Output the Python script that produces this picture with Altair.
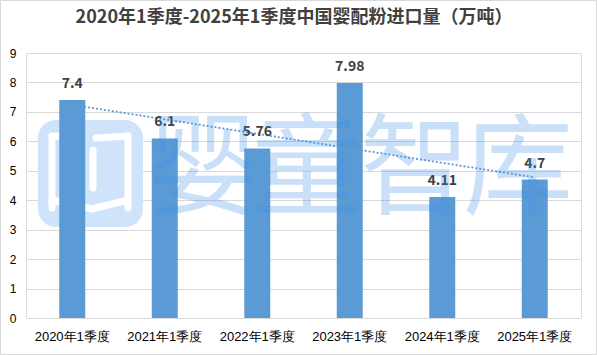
import altair as alt
import pandas as pd

# ---- data ----
categories = ["2020年1季度", "2021年1季度", "2022年1季度", "2023年1季度", "2024年1季度", "2025年1季度"]
values = [7.4, 6.1, 5.76, 7.98, 4.11, 4.7]
value_labels = ["7.4", "6.1", "5.76", "7.98", "4.11", "4.7"]
y_ticks = [0, 1, 2, 3, 4, 5, 6, 7, 8, 9]
title_text = "2020年1季度-2025年1季度中国婴配粉进口量（万吨）"
watermark_chars = ["婴", "童", "智", "库"]

df = pd.DataFrame({
    "cat": categories,
    "val": values,
    "label": value_labels,
    "idx": list(range(1, len(categories) + 1)),
})

FONT = "Noto Sans CJK SC"
W, H = 555, 265
BAR = "#5B9BD5"
TXT = "#404040"
WM = "#CFE4FA"

one = alt.Data(values=[{}])

x_band = alt.X("cat:N", sort=categories,
               scale=alt.Scale(paddingInner=0, paddingOuter=0),
               axis=alt.Axis(title=None, labelAngle=0, labelFontSize=13,
                             labelPadding=12, ticks=False, domain=True,
                             domainColor="#d9d9d9", grid=False))
y_val = alt.Y("val:Q", scale=alt.Scale(domain=[0, 9], nice=False),
              axis=alt.Axis(title=None, values=y_ticks, labelFontSize=12,
                            labelPadding=10, ticks=False, domain=False,
                            grid=True, gridColor="#d9d9d9"))

# watermark logo (behind bars)
logo = alt.Chart(one).mark_rect(fill=WM, cornerRadius=18).encode(
    x=alt.value(12), x2=alt.value(117), y=alt.value(67), y2=alt.value(174))

segs = [
    (26, 83, 26, 155), (102, 83, 102, 155), (67, 97, 67, 135),
    (26, 83, 52, 84), (70, 85, 102, 83),
    (26, 147, 66, 156), (66, 156, 102, 147),
]
logo_lines = [
    alt.Chart(one).mark_rule(color="white", strokeWidth=7, strokeCap="round").encode(
        x=alt.value(a), y=alt.value(b), x2=alt.value(c), y2=alt.value(d))
    for a, b, c, d in segs
]

trend = alt.Chart(df).transform_regression("idx", "val").mark_line(
    color=BAR, strokeWidth=1.8, strokeDash=[2, 2]).encode(
    x=alt.X("idx:Q", scale=alt.Scale(domain=[0.5, 6.5], nice=False, zero=False), axis=None),
    y=y_val)

bars = alt.Chart(df).mark_bar(color=BAR, size=26).encode(x=x_band, y=y_val)

texts = alt.Chart(df).mark_text(baseline="bottom", dy=-9, fontSize=14,
                                fontWeight="bold", color=TXT, font=FONT).encode(
    x=x_band, y=y_val, text="label:N")

main = alt.layer(bars, texts)

wm_x = [177, 281, 389, 492]
wm_text = [
    alt.Chart(one).mark_text(text=ch, fontSize=110, font=FONT, color="#3A8EE6",
                             opacity=0.27, align="center", baseline="middle").encode(
        x=alt.value(xx), y=alt.value(120))
    for ch, xx in zip(watermark_chars, wm_x)
]

title = alt.Chart(one).mark_text(text=title_text, fontSize=18, font=FONT,
                                 fontWeight="bold", color=TXT, align="center",
                                 baseline="middle").encode(
    x=alt.value(268), y=alt.value(-35))

border = alt.Chart(one).mark_rect(fillOpacity=0, stroke="#d9d9d9", strokeWidth=1).encode(
    x=alt.value(-25.5), x2=alt.value(570.5), y=alt.value(-52.5), y2=alt.value(301.5))

chart = alt.layer(
    logo, *logo_lines, trend, main, *wm_text, title, border
).resolve_scale(x="independent").properties(
    width=W, height=H,
    autosize=alt.AutoSizeParams(type="none"),
    padding={"left": 26, "top": 53, "right": 16, "bottom": 37},
).configure_view(stroke=None).configure_axis(
    labelFont=FONT, labelFontWeight="bold", labelColor=TXT
).configure(background="white")

chart.save("out.html", embed_options={"renderer": "svg", "actions": False})
